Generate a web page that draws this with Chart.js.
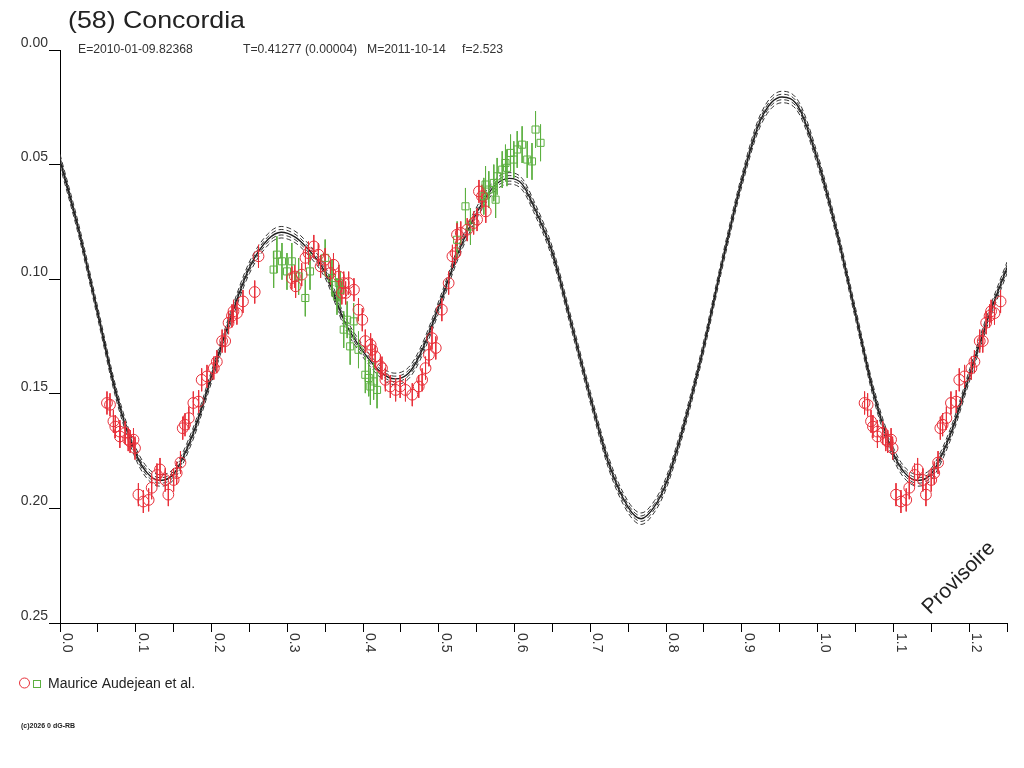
<!DOCTYPE html>
<html>
<head>
<meta charset="utf-8">
<title>(58) Concordia</title>
<script src="https://cdn.jsdelivr.net/npm/chart.js@4.4.1/dist/chart.umd.min.js"></script>
<style>
  html, body { margin: 0; padding: 0; background: #fff; }
  #wrap { width: 1024px; height: 768px; }
</style>
</head>
<body>
<div id="wrap"><canvas id="lc" width="1024" height="768"></canvas></div>
<script>
// light curve of (58) Concordia, phase folded
const titleText = '(58) Concordia';
const infoTexts = ['E=2010-01-09.82368', 'T=0.41277 (0.00004)', 'M=2011-10-14', 'f=2.523'];
const infoX = [78, 243, 367, 462];
const observer = 'Maurice Audejean et al.';

const phaseMax = 1.25;
const magTicks = [0.00, 0.05, 0.10, 0.15, 0.20, 0.25];

// model curve, one cycle (phase, magnitude)
const curvePhase = [0.000, 0.025, 0.050, 0.075, 0.100, 0.115, 0.132, 0.150, 0.175, 0.200,
  0.225, 0.250, 0.275, 0.292, 0.310, 0.325, 0.350, 0.375, 0.400, 0.425,
  0.442, 0.460, 0.475, 0.500, 0.525, 0.550, 0.575, 0.593, 0.610, 0.625,
  0.650, 0.675, 0.700, 0.725, 0.750, 0.767, 0.785, 0.800, 0.825, 0.850,
  0.875, 0.900, 0.925, 0.953, 0.975];
const curveMag = [0.048, 0.079, 0.115, 0.151, 0.176, 0.1845, 0.1878, 0.1850, 0.168, 0.1425,
  0.117, 0.0950, 0.0825, 0.0795, 0.0815, 0.0860, 0.097, 0.118, 0.1315, 0.1410,
  0.1435, 0.1410, 0.1330, 0.112, 0.089, 0.071, 0.0588, 0.0560, 0.0585, 0.068,
  0.0886, 0.1195, 0.1515, 0.181, 0.1995, 0.2045, 0.1990, 0.189, 0.162, 0.129,
  0.0915, 0.057, 0.0303, 0.0205, 0.0250];
// dashed envelope curves (period uncertainty)
const envelopeShift = [-0.0025, -0.0012, 0.0012, 0.0025];

// red circles
const redPhase = [0.062, 0.066, 0.0705, 0.073, 0.079, 0.079, 0.086, 0.090, 0.0925, 0.097,
  0.099, 0.1035, 0.110, 0.117, 0.121, 0.128, 0.132, 0.139, 0.143, 0.150,
  0.154, 0.159, 0.162, 0.165, 0.170, 0.176, 0.183, 0.187, 0.194, 0.203,
  0.207, 0.214, 0.218, 0.2225, 0.227, 0.229, 0.2335, 0.2415, 0.257, 0.262,
  0.306, 0.310, 0.311, 0.319, 0.324, 0.328, 0.335, 0.341, 0.344, 0.350,
  0.357, 0.361, 0.368, 0.372, 0.3745, 0.377, 0.381, 0.388, 0.394, 0.399,
  0.403, 0.410, 0.412, 0.416, 0.423, 0.425, 0.4295, 0.436, 0.443, 0.449,
  0.456, 0.465, 0.4735, 0.478, 0.4825, 0.487, 0.491, 0.496, 0.504, 0.513,
  0.518, 0.522, 0.524, 0.529, 0.5375, 0.546, 0.5505, 0.553, 0.557, 0.562];
const redMag = [0.154, 0.1548, 0.162, 0.1643, 0.1665, 0.1686, 0.167, 0.170, 0.1708, 0.170,
  0.1737, 0.194, 0.197, 0.1963, 0.191, 0.1854, 0.183, 0.1876, 0.194, 0.1876,
  0.1846, 0.180, 0.165, 0.1635, 0.1606, 0.154, 0.1534, 0.1439, 0.1424, 0.1388,
  0.136, 0.127, 0.127, 0.119, 0.116, 0.114, 0.1148, 0.1097, 0.1056, 0.090,
  0.0995, 0.0988, 0.1031, 0.098, 0.0907, 0.0886, 0.0857, 0.0893, 0.0944, 0.0915,
  0.0973, 0.0937, 0.0988, 0.106, 0.1017, 0.106, 0.1017, 0.1046, 0.1133, 0.1177,
  0.127, 0.1286, 0.1308, 0.1337, 0.138, 0.1388, 0.1439, 0.1468, 0.1483, 0.1468,
  0.1483, 0.1504, 0.1468, 0.1439, 0.1388, 0.133, 0.1257, 0.130, 0.1133, 0.1017,
  0.090, 0.0886, 0.0806, 0.0798, 0.0784, 0.0755, 0.074, 0.0617, 0.0638, 0.0704];
const redErr = 0.005;

// green squares
const greenPhase = [0.282, 0.2863, 0.293, 0.2996, 0.306, 0.315, 0.3238, 0.330, 0.350, 0.359,
  0.3656, 0.368, 0.370, 0.3745, 0.379, 0.383, 0.3876, 0.394, 0.403, 0.4075,
  0.4097, 0.414, 0.4185, 0.5242, 0.5352, 0.5418, 0.5594, 0.5617, 0.566, 0.5726,
  0.575, 0.577, 0.5837, 0.588, 0.590, 0.5947, 0.599, 0.6035, 0.610, 0.6167,
  0.623, 0.6277, 0.6343];
const greenMag = [0.0958, 0.0893, 0.0922, 0.0966, 0.0922, 0.0988, 0.1082, 0.0966, 0.0907, 0.0995,
  0.1075, 0.1017, 0.1046, 0.122, 0.1177, 0.1293, 0.1184, 0.1308, 0.1417, 0.1431,
  0.1468, 0.1446, 0.1483, 0.0828, 0.0682, 0.077, 0.0638, 0.0587, 0.0609, 0.058,
  0.0653, 0.0551, 0.0522, 0.0493, 0.0514, 0.0449, 0.0478, 0.0434, 0.0413, 0.0478,
  0.0486, 0.0347, 0.0405];
const greenErr = 0.008;

const RED = '#e8303a';
const GREEN = '#5cb040';
const FONT = '"Liberation Sans", Arial, sans-serif';

// repeat points of the first cycle after phase 1 up to the right edge
function foldPoints(ph, mg, shift) {
  const out = [];
  [0, 1].forEach(k => {
    ph.forEach((p, i) => {
      if (p + k <= phaseMax + 1e-9) out.push({ x: p + k, y: mg[i] + (shift || 0) });
    });
  });
  return out.sort((a, b) => a.x - b.x);
}

function errorBars(points, err) {
  const out = [];
  points.forEach(pt => {
    out.push({ x: pt.x, y: pt.y - err });
    out.push({ x: pt.x, y: pt.y + err });
    out.push({ x: pt.x, y: null });
  });
  return out;
}

const redPts = foldPoints(redPhase, redMag);
const greenPts = foldPoints(greenPhase, greenMag);

const datasets = [
  { data: redPts, showLine: false, pointStyle: 'circle', pointRadius: 5.4,
    pointBorderColor: RED, pointBackgroundColor: 'rgba(0,0,0,0)', pointBorderWidth: 1 },
  { data: greenPts, showLine: false, pointStyle: 'rect', pointRadius: 5,
    pointBorderColor: GREEN, pointBackgroundColor: 'rgba(0,0,0,0)', pointBorderWidth: 1 },
  { data: errorBars(redPts, redErr), showLine: true, spanGaps: false, pointRadius: 0,
    borderColor: RED, borderWidth: 1 },
  { data: errorBars(greenPts, greenErr), showLine: true, spanGaps: false, pointRadius: 0,
    borderColor: GREEN, borderWidth: 1 },
  { data: foldPoints(curvePhase, curveMag), showLine: true, pointRadius: 0,
    borderColor: '#1e1e1e', borderWidth: 1.4, cubicInterpolationMode: 'monotone' }
];
envelopeShift.forEach(s => {
  datasets.push({ data: foldPoints(curvePhase, curveMag, s), showLine: true, pointRadius: 0,
    borderColor: '#333', borderWidth: 1, borderDash: [5, 3], cubicInterpolationMode: 'monotone' });
});

const textPlugin = {
  id: 'texts',
  beforeDraw(chart) {
    const ctx = chart.ctx;
    ctx.save();
    ctx.fillStyle = '#fff';
    ctx.fillRect(0, 0, chart.width, chart.height);
    ctx.restore();
  },
  afterDraw(chart) {
    const ctx = chart.ctx;
    const xs = chart.scales.x;
    ctx.save();
    ctx.fillStyle = '#222';
    ctx.textBaseline = 'alphabetic';
    ctx.textAlign = 'left';

    // title, stretched to the reference width
    ctx.font = '24px ' + FONT;
    const tw = ctx.measureText(titleText).width;
    ctx.save();
    ctx.translate(68, 28);
    ctx.scale(177 / tw, 1);
    ctx.fillText(titleText, 0, 0);
    ctx.restore();

    ctx.fillStyle = '#333';
    ctx.font = '12.2px ' + FONT;
    infoTexts.forEach((t, i) => ctx.fillText(t, infoX[i], 53));

    // rotated x tick labels
    ctx.font = '14px ' + FONT;
    xs.ticks.forEach(t => {
      const v = t.value;
      if (Math.abs(v * 10 - Math.round(v * 10)) > 1e-6 || v > 1.2 + 1e-9) return;
      const px = xs.getPixelForValue(v);
      ctx.save();
      ctx.translate(px, 633);
      ctx.rotate(Math.PI / 2);
      ctx.textAlign = 'left';
      ctx.textBaseline = 'bottom';
      ctx.fillText(v.toFixed(1), 0, 0);
      ctx.restore();
    });

    // legend
    ctx.lineWidth = 1;
    ctx.strokeStyle = RED;
    ctx.beginPath();
    ctx.arc(24.5, 683, 5, 0, Math.PI * 2);
    ctx.stroke();
    ctx.strokeStyle = GREEN;
    ctx.strokeRect(33.5, 680.5, 7, 7);
    ctx.fillStyle = '#222';
    ctx.font = '14px ' + FONT;
    ctx.fillText(observer, 48, 688);

    ctx.font = 'bold 7px ' + FONT;
    ctx.fillText('(c)2026 0 dG-RB', 21, 728);

    // watermark
    ctx.save();
    ctx.translate(959, 578);
    ctx.rotate(-Math.PI / 4);
    ctx.font = '21px ' + FONT;
    ctx.textAlign = 'center';
    ctx.textBaseline = 'middle';
    ctx.fillStyle = '#222';
    ctx.fillText('Provisoire', 0, 0);
    ctx.restore();

    ctx.restore();
  }
};

new Chart(document.getElementById('lc'), {
  type: 'scatter',
  data: { datasets },
  options: {
    responsive: false,
    animation: false,
    devicePixelRatio: 1,
    layout: { padding: { top: 50, right: 17, left: 0, bottom: 0 } },
    plugins: { legend: { display: false }, tooltip: { enabled: false } },
    scales: {
      x: {
        type: 'linear', position: 'bottom', min: 0, max: phaseMax,
        ticks: { stepSize: 0.05, display: false },
        grid: { drawOnChartArea: false, drawTicks: true, tickLength: 9, color: '#000' },
        border: { display: true, color: '#000' },
        afterFit(s) { s.height = 145; }
      },
      y: {
        type: 'linear', reverse: true, min: magTicks[0], max: magTicks[magTicks.length - 1],
        afterBuildTicks(s) { s.ticks = magTicks.map(v => ({ value: v })); },
        ticks: {
          callback: v => v.toFixed(2), labelOffset: -7, padding: 1,
          color: '#333', font: { family: FONT, size: 14 }
        },
        grid: { drawOnChartArea: false, drawTicks: true, tickLength: 11, color: '#000' },
        border: { display: true, color: '#000' },
        afterFit(s) { s.width = 60; }
      }
    }
  },
  plugins: [textPlugin]
});
</script>
</body>
</html>
